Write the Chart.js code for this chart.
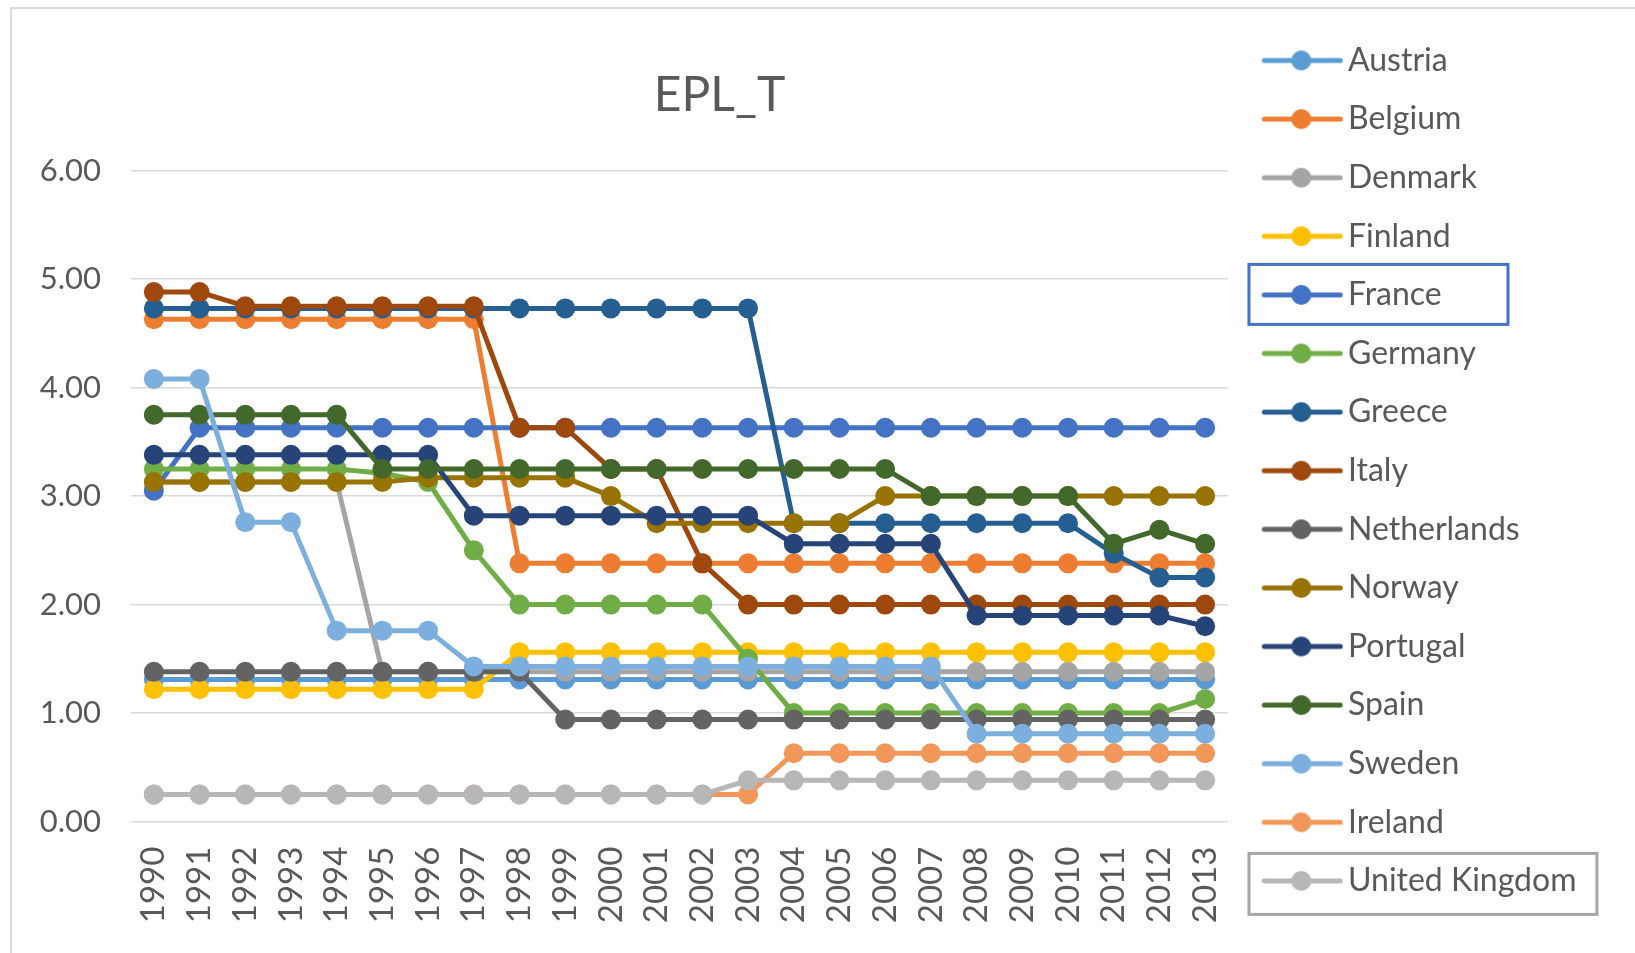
<!DOCTYPE html>
<html>
<head>
<meta charset="utf-8">
<title>EPL_T</title>
<script src="https://cdn.jsdelivr.net/npm/chart.js@4.4.1/dist/chart.umd.min.js"></script>
<style>
  html, body { margin: 0; padding: 0; background: #fff; overflow: hidden; }
  #wrap { position: relative; width: 1635px; height: 953px; }
  #frame { position: absolute; left: 10px; top: 7px; right: 0; bottom: 0;
           border-left: 2px solid #d9d9d9; border-top: 2px solid #d9d9d9; pointer-events: none; }
</style>
</head>
<body>
<div id="wrap">
  <canvas id="chart1" width="1635" height="953"></canvas>
  <div id="frame"></div>
</div>
<script>
// years on the x axis
const years = ['1990','1991','1992','1993','1994','1995','1996','1997','1998','1999','2000','2001',
               '2002','2003','2004','2005','2006','2007','2008','2009','2010','2011','2012','2013'];

const countries = ['Austria','Belgium','Denmark','Finland','France','Germany','Greece','Italy',
                   'Netherlands','Norway','Portugal','Spain','Sweden','Ireland','United Kingdom'];

const colors = ['#5B9BD5','#ED7D31','#A5A5A5','#FFC000','#4472C4','#70AD47','#255E91','#9E480E',
                '#636363','#997300','#264478','#43682B','#7CAFDD','#F1975A','#B7B7B7'];

// EPL_T values, 1990..2013
const austria     = [1.31,1.31,1.31,1.31,1.31,1.31,1.31,1.31,1.31,1.31,1.31,1.31,1.31,1.31,1.31,1.31,1.31,1.31,1.31,1.31,1.31,1.31,1.31,1.31];
const belgium     = [4.63,4.63,4.63,4.63,4.63,4.63,4.63,4.63,2.38,2.38,2.38,2.38,2.38,2.38,2.38,2.38,2.38,2.38,2.38,2.38,2.38,2.38,2.38,2.38];
const denmark     = [3.13,3.13,3.13,3.13,3.13,1.38,1.38,1.38,1.38,1.38,1.38,1.38,1.38,1.38,1.38,1.38,1.38,1.38,1.38,1.38,1.38,1.38,1.38,1.38];
const finland     = [1.22,1.22,1.22,1.22,1.22,1.22,1.22,1.22,1.56,1.56,1.56,1.56,1.56,1.56,1.56,1.56,1.56,1.56,1.56,1.56,1.56,1.56,1.56,1.56];
const france      = [3.05,3.63,3.63,3.63,3.63,3.63,3.63,3.63,3.63,3.63,3.63,3.63,3.63,3.63,3.63,3.63,3.63,3.63,3.63,3.63,3.63,3.63,3.63,3.63];
const germany     = [3.25,3.25,3.25,3.25,3.25,3.21,3.13,2.50,2.00,2.00,2.00,2.00,2.00,1.50,1.00,1.00,1.00,1.00,1.00,1.00,1.00,1.00,1.00,1.13];
const greece      = [4.73,4.73,4.73,4.73,4.73,4.73,4.73,4.73,4.73,4.73,4.73,4.73,4.73,4.73,2.75,2.75,2.75,2.75,2.75,2.75,2.75,2.47,2.25,2.25];
const italy       = [4.88,4.88,4.75,4.75,4.75,4.75,4.75,4.75,3.63,3.63,3.25,3.25,2.38,2.00,2.00,2.00,2.00,2.00,2.00,2.00,2.00,2.00,2.00,2.00];
const netherlands = [1.38,1.38,1.38,1.38,1.38,1.38,1.38,1.38,1.38,0.94,0.94,0.94,0.94,0.94,0.94,0.94,0.94,0.94,0.94,0.94,0.94,0.94,0.94,0.94];
const norway      = [3.13,3.13,3.13,3.13,3.13,3.13,3.17,3.17,3.17,3.17,3.00,2.75,2.75,2.75,2.75,2.75,3.00,3.00,3.00,3.00,3.00,3.00,3.00,3.00];
const portugal    = [3.38,3.38,3.38,3.38,3.38,3.38,3.38,2.82,2.82,2.82,2.82,2.82,2.82,2.82,2.56,2.56,2.56,2.56,1.90,1.90,1.90,1.90,1.90,1.80];
const spain       = [3.75,3.75,3.75,3.75,3.75,3.25,3.25,3.25,3.25,3.25,3.25,3.25,3.25,3.25,3.25,3.25,3.25,3.00,3.00,3.00,3.00,2.56,2.69,2.56];
const sweden      = [4.08,4.08,2.76,2.76,1.76,1.76,1.76,1.43,1.43,1.43,1.43,1.43,1.43,1.43,1.43,1.43,1.43,1.43,0.81,0.81,0.81,0.81,0.81,0.81];
const ireland     = [0.25,0.25,0.25,0.25,0.25,0.25,0.25,0.25,0.25,0.25,0.25,0.25,0.25,0.25,0.63,0.63,0.63,0.63,0.63,0.63,0.63,0.63,0.63,0.63];
const uk          = [0.25,0.25,0.25,0.25,0.25,0.25,0.25,0.25,0.25,0.25,0.25,0.25,0.25,0.38,0.38,0.38,0.38,0.38,0.38,0.38,0.38,0.38,0.38,0.38];

const series = [austria, belgium, denmark, finland, france, germany, greece, italy,
                netherlands, norway, portugal, spain, sweden, ireland, uk];

const textColor = '#595959';
const fontFamily = 'Lato, "Open Sans", sans-serif';

// little line-with-dot picture for the legend
function legendIcon(color) {
  const c = document.createElement('canvas');
  c.width = 100; c.height = 24;
  const g = c.getContext('2d');
  g.strokeStyle = color; g.lineWidth = 5; g.lineCap = 'round';
  g.beginPath(); g.moveTo(21, 12); g.lineTo(97, 12); g.stroke();
  g.fillStyle = color;
  g.beginPath(); g.arc(58, 12, 10, 0, Math.PI * 2); g.fill();
  return c;
}
const icons = colors.map(legendIcon);

// move the title a bit right, like the original
const titleShift = {
  id: 'titleShift',
  afterLayout(chart) {
    chart.titleBlock.left += 40;
    chart.titleBlock.right += 40;
  }
};

// the two outlined legend entries
const legendFrames = {
  id: 'legendFrames',
  afterDraw(chart) {
    const boxes = chart.legend.legendHitBoxes;
    const ctx = chart.ctx;
    // [item, colour, width, offset from text middle, height]
    const marks = [[4, '#4472C4', 259, -30.5, 60], [14, '#A6A6A6', 348, -27.5, 61]];
    ctx.save();
    ctx.lineWidth = 3;
    marks.forEach(([i, col, w, dy, h]) => {
      const hb = boxes[i];
      ctx.strokeStyle = col;
      ctx.strokeRect(hb.left - 5.6, hb.top + 16 + dy, w, h);
    });
    ctx.restore();
  }
};

const datasets = countries.map((name, i) => ({
  label: name,
  data: series[i],
  borderColor: colors[i],
  backgroundColor: colors[i],
  pointBackgroundColor: colors[i],
  pointBorderColor: colors[i],
  borderWidth: 5,
  pointRadius: 10,
  pointBorderWidth: 0,
  pointHoverRadius: 10,
  borderJoinStyle: 'round',
  borderCapStyle: 'round',
  order: countries.length - i,
  fill: false,
  tension: 0
}));

const ctx = document.getElementById('chart1').getContext('2d');
new Chart(ctx, {
  type: 'line',
  data: { labels: years, datasets: datasets },
  plugins: [titleShift, legendFrames],
  options: {
    responsive: false,
    animation: false,
    layout: { padding: { top: 0, bottom: 11.6, left: 0, right: 48.5 } },
    plugins: {
      tooltip: { enabled: false },
      title: {
        display: true,
        text: 'EPL_T',
        fullSize: false,
        color: textColor,
        font: { family: fontFamily, size: 48, weight: 'normal' },
        padding: { top: 67, bottom: 46 }
      },
      legend: {
        position: 'right',
        align: 'center',
        labels: {
          usePointStyle: true,
          pointStyleWidth: 77.4,
          padding: 26.6,
          color: textColor,
          font: { family: fontFamily, size: 32 },
          sort: (a, b) => a.datasetIndex - b.datasetIndex,
          generateLabels: chart => Chart.defaults.plugins.legend.labels.generateLabels(chart).map(item => {
            item.pointStyle = icons[item.datasetIndex];
            return item;
          })
        }
      }
    },
    scales: {
      x: {
        offset: true,
        grid: { display: false, drawTicks: false },
        border: { display: false },
        ticks: {
          autoSkip: false, minRotation: 90, maxRotation: 90, padding: 25,
          color: textColor, font: { family: fontFamily, size: 33 }
        },
        afterFit: s => { s.height = 953 - 11.6 - 821.6; }
      },
      y: {
        min: 0, max: 6,
        grid: { color: '#d9d9d9', lineWidth: 1.5, drawTicks: false },
        border: { display: false },
        ticks: {
          stepSize: 1, padding: 30,
          color: textColor, font: { family: fontFamily, size: 31 },
          callback: v => v.toFixed(2)
        },
        afterFit: s => { s.width = 131; }
      }
    }
  }
});
</script>
</body>
</html>
